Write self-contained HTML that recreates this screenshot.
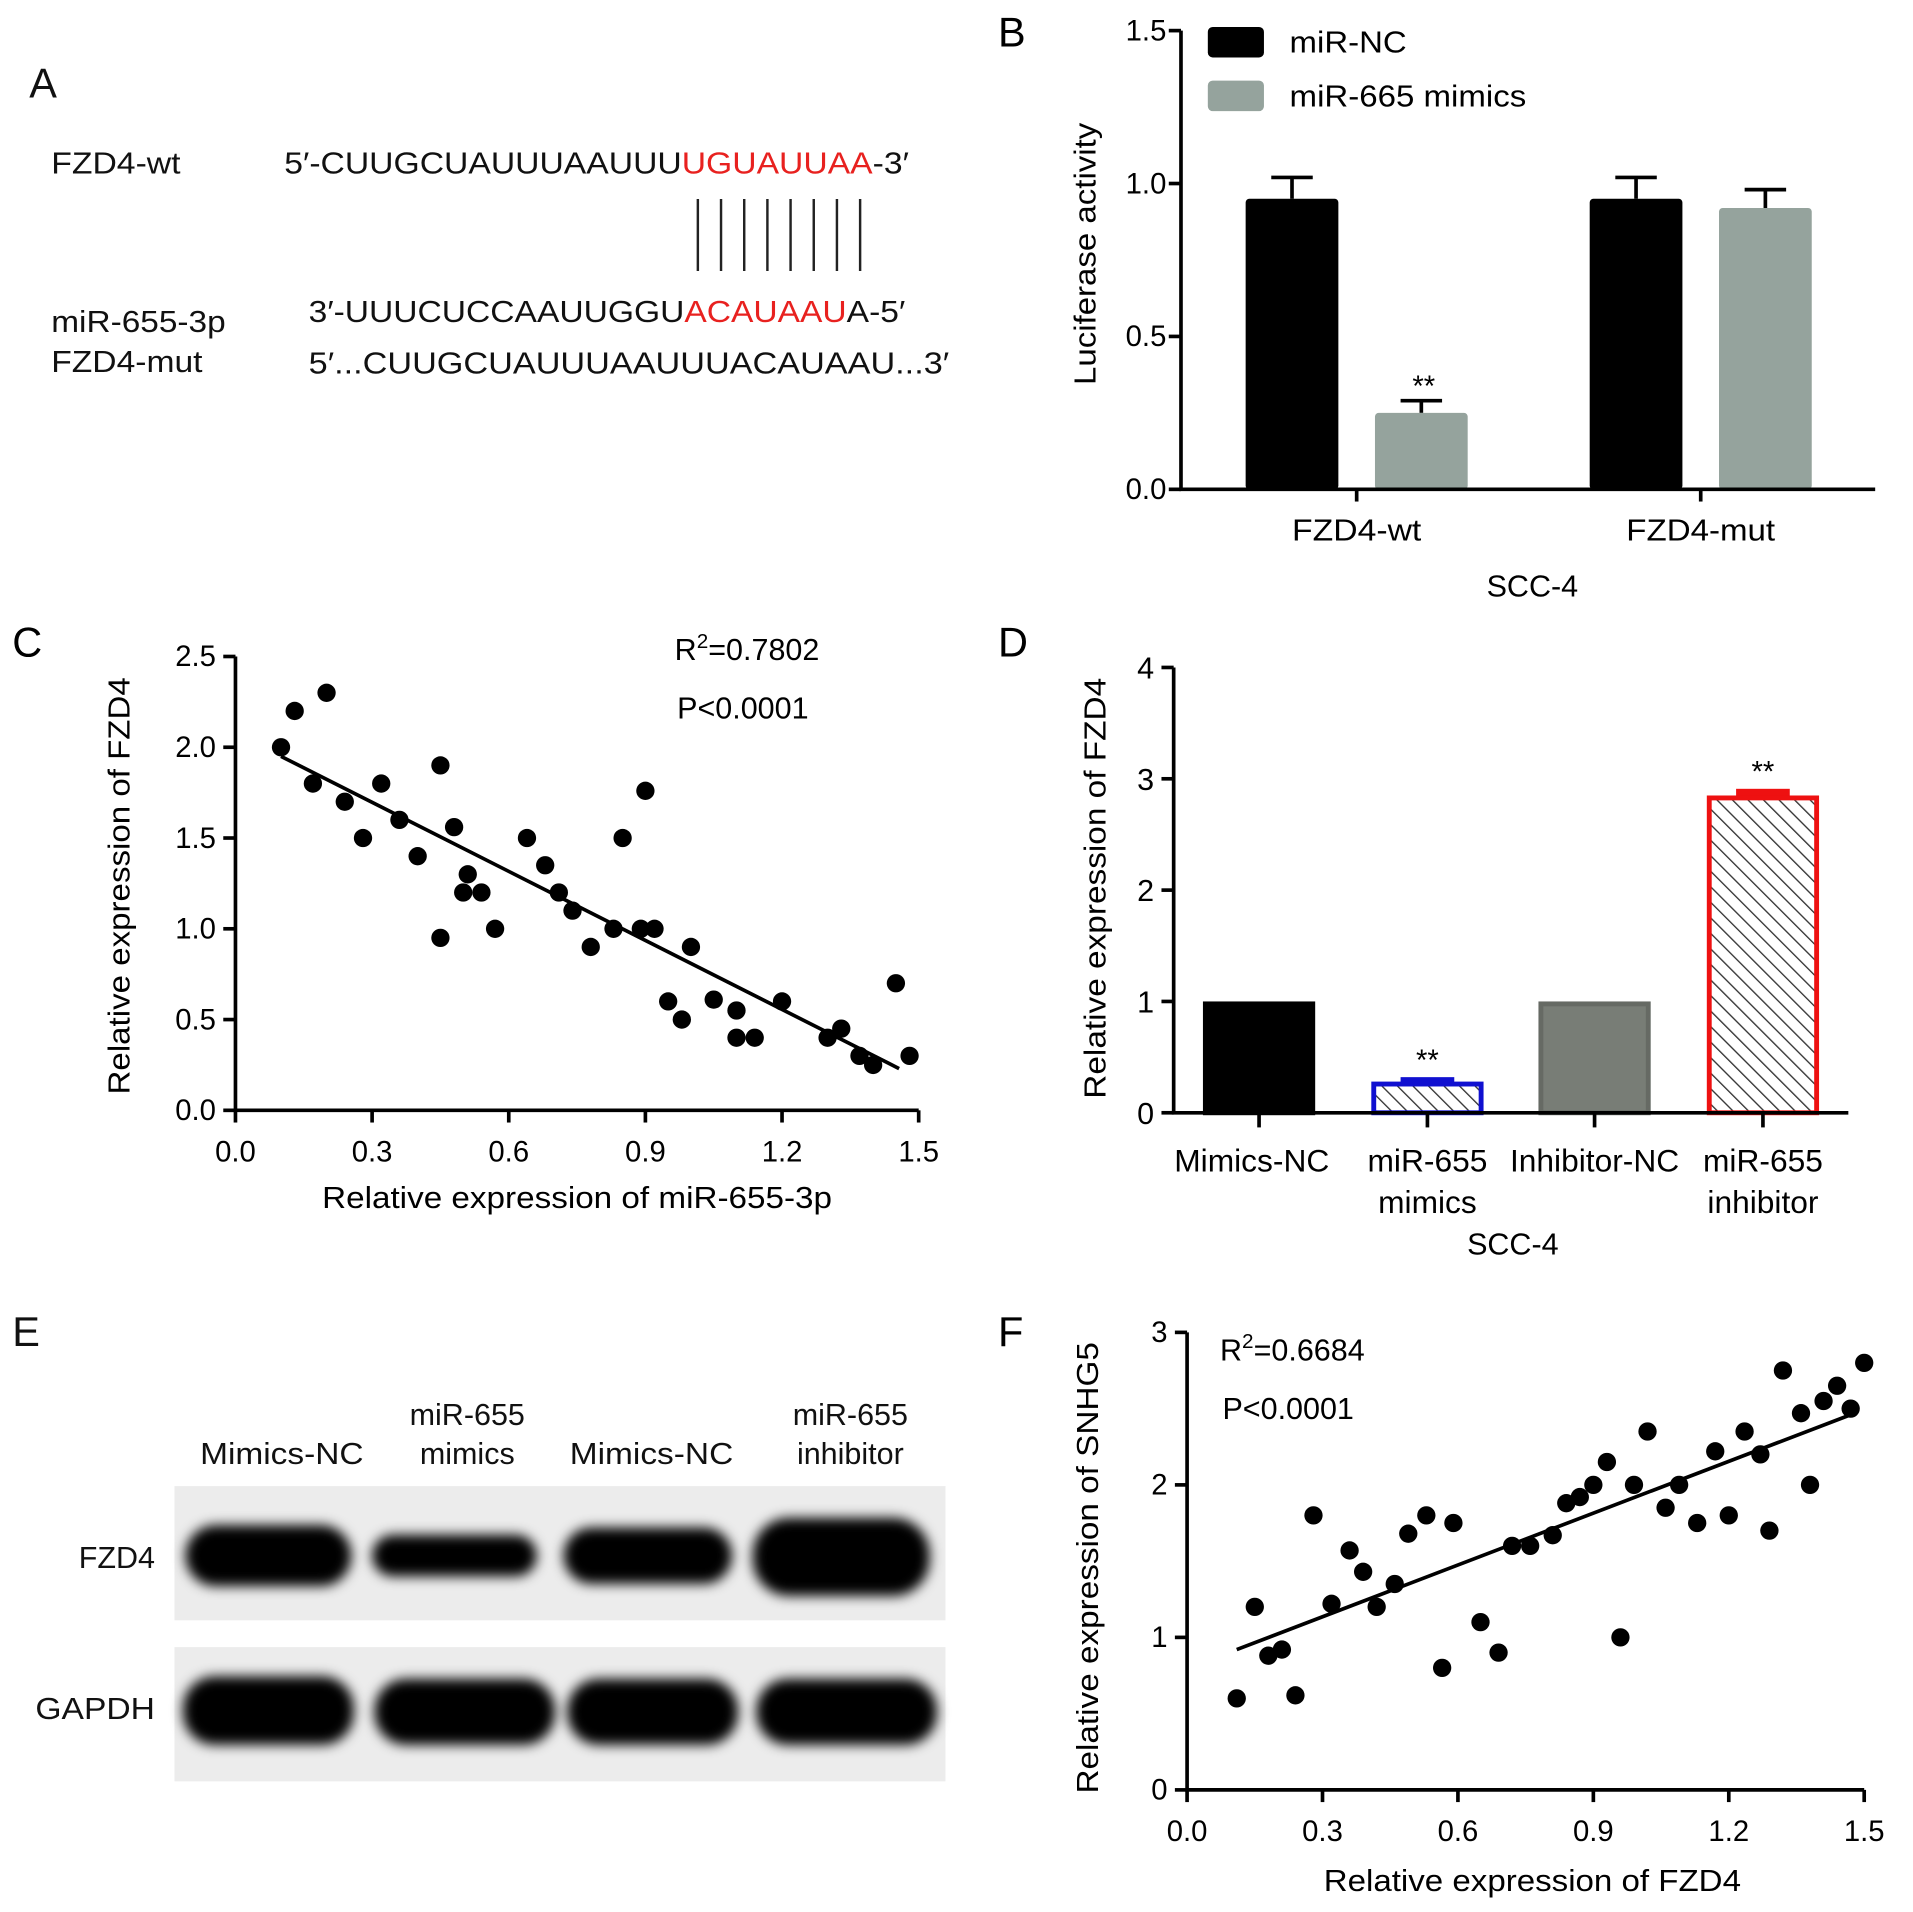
<!DOCTYPE html>
<html><head><meta charset="utf-8">
<style>
html,body{margin:0;padding:0;background:#fff;}
svg{display:block;font-family:"Liberation Sans",Arial,sans-serif;}
</style></head>
<body>
<svg id="fig" width="1913" height="1912" viewBox="0 0 1568 1567" xmlns="http://www.w3.org/2000/svg">
<defs>
<pattern id="hatch" patternUnits="userSpaceOnUse" width="9" height="9" patternTransform="rotate(-45)">
<rect width="9" height="9" fill="#fff"/><line x1="0" y1="0" x2="0" y2="9" stroke="#333" stroke-width="2.2"/>
</pattern>
<filter id="blur"><feGaussianBlur stdDeviation="5"/></filter>
</defs>

<!-- Panel A -->
<g font-size="25" fill="#111">
<text x="24" y="80" font-size="34">A</text>
<text x="42" y="142" textLength="106" lengthAdjust="spacingAndGlyphs">FZD4-wt</text>
<text x="233" y="142" textLength="512" lengthAdjust="spacingAndGlyphs">5′-CUUGCUAUUUAAUUU<tspan fill="#e8211f">UGUAUUAA</tspan>-3′</text>
<g stroke="#222" stroke-width="2">
<line x1="572" y1="163" x2="572" y2="222"/><line x1="591" y1="163" x2="591" y2="222"/><line x1="610" y1="163" x2="610" y2="222"/><line x1="629" y1="163" x2="629" y2="222"/><line x1="648" y1="163" x2="648" y2="222"/><line x1="667" y1="163" x2="667" y2="222"/><line x1="686" y1="163" x2="686" y2="222"/><line x1="705" y1="163" x2="705" y2="222"/>
</g>
<text x="42" y="272" textLength="143" lengthAdjust="spacingAndGlyphs">miR-655-3p</text>
<text x="253" y="264" textLength="489" lengthAdjust="spacingAndGlyphs">3′-UUUCUCCAAUUGGU<tspan fill="#e8211f">ACAUAAU</tspan>A-5′</text>
<text x="42" y="305" textLength="124" lengthAdjust="spacingAndGlyphs">FZD4-mut</text>
<text x="253" y="306" textLength="525" lengthAdjust="spacingAndGlyphs">5′...CUUGCUAUUUAAUUUACAUAAU...3′</text>
</g>

<text x="818" y="38" font-size="34">B</text>
<g id="chartB"></g>
<text x="10" y="538" font-size="34">C</text>
<g id="chartC"></g>
<text x="818" y="538" font-size="34">D</text>
<g id="chartD"></g>

<!-- Panel E -->
<g font-size="25" fill="#111">
<text x="10" y="1103" font-size="34">E</text>
<text x="231" y="1200" text-anchor="middle" textLength="134" lengthAdjust="spacingAndGlyphs">Mimics-NC</text>
<text x="383" y="1168" text-anchor="middle">miR-655</text>
<text x="383" y="1200" text-anchor="middle">mimics</text>
<text x="534" y="1200" text-anchor="middle" textLength="134" lengthAdjust="spacingAndGlyphs">Mimics-NC</text>
<text x="697" y="1168" text-anchor="middle">miR-655</text>
<text x="697" y="1200" text-anchor="middle">inhibitor</text>
<text x="127" y="1285" text-anchor="end">FZD4</text>
<text x="127" y="1409" text-anchor="end" textLength="98" lengthAdjust="spacingAndGlyphs">GAPDH</text>
<rect x="143" y="1218" width="632" height="110" fill="#ececec"/>
<rect x="143" y="1350" width="632" height="110" fill="#ececec"/>
<g filter="url(#blur)" fill="#050505">
<rect x="152" y="1250" width="136" height="50" rx="25"/>
<rect x="305" y="1258" width="135" height="34" rx="17"/>
<rect x="462" y="1252" width="138" height="46" rx="23"/>
<rect x="617" y="1244" width="145" height="64" rx="30"/>
<rect x="150" y="1374" width="140" height="56" rx="26"/>
<rect x="307" y="1376" width="148" height="54" rx="26"/>
<rect x="465" y="1376" width="140" height="54" rx="26"/>
<rect x="620" y="1376" width="148" height="54" rx="26"/>
</g>
</g>

<text x="818" y="1103" font-size="34">F</text>
<g id="chartF"></g>
</svg>

<script>
// ---- Panel B data ----
const bCategories = ["FZD4-wt", "FZD4-mut"];
const bSeriesNames = ["miR-NC", "miR-665 mimics"];
const bNC = [0.95, 0.95];
const bNCErr = [0.07, 0.07];
const bMimics = [0.25, 0.92];
const bMimicsErr = [0.04, 0.06];
const bTicks = ["0.0", "0.5", "1.0", "1.5"];

// ---- Panel C data ----
const cX = [0.10,0.13,0.17,0.20,0.24,0.28,0.32,0.36,0.40,0.45,0.45,0.48,0.50,0.51,0.54,0.57,0.64,0.68,0.71,0.74,0.78,0.83,0.85,0.89,0.90,0.92,0.95,0.98,1.00,1.05,1.10,1.10,1.14,1.20,1.30,1.33,1.37,1.40,1.45,1.48];
const cY = [2.0,2.2,1.8,2.3,1.7,1.5,1.8,1.6,1.4,0.95,1.9,1.56,1.2,1.3,1.2,1.0,1.5,1.35,1.2,1.1,0.9,1.0,1.5,1.0,1.76,1.0,0.6,0.5,0.9,0.61,0.55,0.4,0.4,0.6,0.4,0.45,0.3,0.25,0.7,0.3];
const cFit = [[0.10,1.95],[1.457,0.23]];
const cXTicks = ["0.0","0.3","0.6","0.9","1.2","1.5"];
const cYTicks = ["0.0","0.5","1.0","1.5","2.0","2.5"];

// ---- Panel D data ----
const dCategories = [["Mimics-NC"],["miR-655","mimics"],["Inhibitor-NC"],["miR-655","inhibitor"]];
const dValues = [1.0, 0.28, 1.0, 2.85];
const dErr = [0, 0.04, 0, 0.06];
const dYTicks = ["0","1","2","3","4"];

// ---- Panel F data ----
const fX = [0.11,0.15,0.18,0.21,0.24,0.28,0.32,0.36,0.39,0.42,0.46,0.49,0.53,0.565,0.59,0.65,0.69,0.72,0.76,0.81,0.84,0.87,0.90,0.93,0.96,0.99,1.02,1.06,1.09,1.13,1.17,1.20,1.235,1.27,1.29,1.32,1.36,1.38,1.41,1.44,1.47,1.50];
const fY = [0.6,1.2,0.88,0.92,0.62,1.8,1.22,1.57,1.43,1.2,1.35,1.68,1.8,0.8,1.75,1.1,0.9,1.6,1.6,1.67,1.88,1.92,2.0,2.15,1.0,2.0,2.35,1.85,2.0,1.75,2.22,1.8,2.35,2.2,1.7,2.75,2.47,2.0,2.55,2.65,2.5,2.8];
const fFit = [[0.11,0.92],[1.47,2.46]];
const fXTicks = ["0.0","0.3","0.6","0.9","1.2","1.5"];
const fYTicks = ["0","1","2","3"];

const NS = "http://www.w3.org/2000/svg";
function mk(parent, tag, attrs, text) {
  const el = document.createElementNS(NS, tag);
  for (const k in attrs) el.setAttribute(k, attrs[k]);
  if (text !== undefined) el.textContent = text;
  parent.appendChild(el);
  return el;
}

// ================= Panel B =================
(function(){
  const g = document.getElementById('chartB');
  const x0 = 968, x1 = 1537, yb = 401, yt = 25, vmax = 1.5;
  const y = v => yb - (v / vmax) * (yb - yt);
  const groupCenters = [1112, 1394], bw = 76, off = 53;
  const colors = ["#000000", "#95a39d"];
  const series = [bNC, bMimics], errs = [bNCErr, bMimicsErr];
  for (let s = 0; s < 2; s++) {
    for (let i = 0; i < bCategories.length; i++) {
      const cx = groupCenters[i] + (s === 0 ? -off : off);
      const v = series[s][i], e = errs[s][i];
      const eb = mk(g, 'path', {d:`M${cx} ${y(v)} V${y(v+e)} M${cx-17} ${y(v+e)} H${cx+17}`, stroke:"#000", 'stroke-width':3, fill:'none'});
      
      
      const r = mk(g, 'rect', {x:cx-bw/2, y:y(v), width:bw, height:yb-y(v), fill:colors[s], rx:3});
      
      
    }
  }
  const st = mk(g, 'text', {x:1167, y:y(bMimics[0]+bMimicsErr[0])-4, 'font-size':24, 'text-anchor':'middle'}, '**');
  
  
  const ax = mk(g, 'path', {d:`M${x0} ${yt} V${yb} H${x1}`, stroke:'#000', 'stroke-width':3, fill:'none'});
  
  
  bTicks.forEach((t, i) => {
    const v = parseFloat(t);
    mk(g, 'line', {x1:x0-10, x2:x0, y1:y(v), y2:y(v), stroke:'#000', 'stroke-width':3});
    const tl = mk(g, 'text', {x:x0-12, y:y(v)+8, 'text-anchor':'end', 'font-size':24}, t);
    
    
  });
  bCategories.forEach((c, i) => {
    mk(g, 'line', {x1:groupCenters[i], x2:groupCenters[i], y1:yb, y2:yb+10, stroke:'#000', 'stroke-width':3});
    const tl = mk(g, 'text', {x:groupCenters[i], y:443, 'text-anchor':'middle', 'font-size':25, textLength: i===0?106:122, lengthAdjust:'spacingAndGlyphs'}, c);
    
    
  });
  const xt = mk(g, 'text', {x:1256, y:489, 'text-anchor':'middle', 'font-size':25}, 'SCC-4');
  
  
  const yt2 = mk(g, 'text', {x:0, y:0, 'text-anchor':'middle', 'font-size':25, textLength:215, lengthAdjust:'spacingAndGlyphs', transform:'translate(898 208) rotate(-90)'}, 'Luciferase activity');
  
  
  bSeriesNames.forEach((n, s) => {
    const ly = 22 + s * 44;
    const lr = mk(g, 'rect', {x:990, y:ly, width:46, height:25, rx:4, fill:colors[s]});
    
    
    const lt = mk(g, 'text', {x:1057, y:ly+21, 'font-size':25, textLength: s===0?96:194, lengthAdjust:'spacingAndGlyphs'}, n);
    
    
  });
})();

// ================= Scatter helper =================
function scatter(gid, xs, ys, fit, xTicks, yTicks, xr, yr, box, labels) {
  const g = document.getElementById(gid);
  const [xl, xh, yb, yt] = box;
  const X = v => xl + (v - xr[0]) / (xr[1] - xr[0]) * (xh - xl);
  const Y = v => yb - (v - yr[0]) / (yr[1] - yr[0]) * (yb - yt);
  const ax = mk(g, 'path', {d:`M${xl} ${yt} V${yb} H${xh}`, stroke:'#000', 'stroke-width':3, fill:'none'});
  
  
  xTicks.forEach(t => {
    const v = parseFloat(t);
    mk(g, 'line', {x1:X(v), x2:X(v), y1:yb, y2:yb+10, stroke:'#000', 'stroke-width':3});
    const tl = mk(g, 'text', {x:X(v), y:yb+42, 'text-anchor':'middle', 'font-size':24}, t);
    
    
  });
  yTicks.forEach(t => {
    const v = parseFloat(t);
    mk(g, 'line', {x1:xl-10, x2:xl, y1:Y(v), y2:Y(v), stroke:'#000', 'stroke-width':3});
    const tl = mk(g, 'text', {x:xl-16, y:Y(v)+8, 'text-anchor':'end', 'font-size':24}, t);
    
    
  });
  const fl = mk(g, 'line', {x1:X(fit[0][0]), y1:Y(fit[0][1]), x2:X(fit[1][0]), y2:Y(fit[1][1]), stroke:'#000', 'stroke-width':3});
  
  
  xs.forEach((v, i) => {
    const c = mk(g, 'circle', {cx:X(v), cy:Y(ys[i]), r:7.5, fill:'#000'});
    
    
  });
  const xt = mk(g, 'text', {x:labels.xtx, y:labels.xty, 'text-anchor':'middle', 'font-size':25, textLength:labels.xlen, lengthAdjust:'spacingAndGlyphs'}, labels.xtitle);
  
  
  const ytl = mk(g, 'text', {x:0, y:0, 'text-anchor':'middle', 'font-size':25, textLength:labels.ylen, lengthAdjust:'spacingAndGlyphs', transform:`translate(${labels.ytx} ${labels.yty}) rotate(-90)`}, labels.ytitle);
  
  
  const r2 = mk(g, 'text', {x:labels.rx, y:labels.ry, 'font-size':25});
  
  
  r2.innerHTML = 'R<tspan font-size="17" dy="-10">2</tspan><tspan dy="10">=' + labels.r2 + '</tspan>';
  const pv = mk(g, 'text', {x:labels.rx + 2, y:labels.ry + 48, 'font-size':25}, 'P<0.0001');
  
  
}

scatter('chartC', cX, cY, cFit, cXTicks, cYTicks, [0,1.5], [0,2.5], [193, 753, 910, 538],
  {xtitle:'Relative expression of miR-655-3p', xtx:473, xty:990, xlen:418, ytitle:'Relative expression of FZD4', ytx:106, yty:726, ylen:342, rx:553, ry:541, r2:'0.7802'});
scatter('chartF', fX, fY, fFit, fXTicks, fYTicks, [0,1.5], [0,3], [973, 1528, 1467, 1092],
  {xtitle:'Relative expression of FZD4', xtx:1256, xty:1550, xlen:342, ytitle:'Relative expression of SNHG5', ytx:900, yty:1285, ylen:370, rx:1000, ry:1115, r2:'0.6684'});

// ================= Panel D =================
(function(){
  const g = document.getElementById('chartD');
  const x0 = 962, x1 = 1515, yb = 912, yt = 547, vmax = 4;
  const y = v => yb - (v / vmax) * (yb - yt);
  const centers = [1032, 1170, 1307, 1445], bw = 92;
  const fills = ['#000', 'url(#hatch)', '#787d76', 'url(#hatch)'];
  const strokes = ['#000', '#1010d0', '#666a64', '#ee1111'];
  dValues.forEach((v, i) => {
    const cx = centers[i];
    if (dErr[i] > 0) {
      const eb = mk(g, 'rect', {x:cx-22, y:y(v+dErr[i]), width:44, height:y(v)-y(v+dErr[i])+2, fill:strokes[i]});
      
      
    }
    const r = mk(g, 'rect', {x:cx-bw/2+2, y:y(v)+2, width:bw-4, height:yb-y(v)-2, fill:fills[i], stroke:strokes[i], 'stroke-width':4});
    
    
    if (dErr[i] > 0) {
      const st = mk(g, 'text', {x:cx, y:y(v+dErr[i])-6, 'text-anchor':'middle', 'font-size':24}, '**');
      
      
    }
    mk(g, 'line', {x1:cx, x2:cx, y1:yb, y2:yb+12, stroke:'#000', 'stroke-width':3});
    dCategories[i].forEach((line, k) => {
      const tl = mk(g, 'text', {x:cx - (i===0?6:0), y:960 + k*34, 'text-anchor':'middle', 'font-size':26}, line);
      
      
    });
  });
  const ax = mk(g, 'path', {d:`M${x0} ${yt} V${yb} H${x1}`, stroke:'#000', 'stroke-width':3, fill:'none'});
  
  
  dYTicks.forEach(t => {
    const v = parseFloat(t);
    mk(g, 'line', {x1:x0-10, x2:x0, y1:y(v), y2:y(v), stroke:'#000', 'stroke-width':3});
    const tl = mk(g, 'text', {x:x0-16, y:y(v)+9, 'text-anchor':'end', 'font-size':25}, t);
    
    
  });
  const xt = mk(g, 'text', {x:1240, y:1028, 'text-anchor':'middle', 'font-size':25}, 'SCC-4');
  
  
  const ytl = mk(g, 'text', {x:0, y:0, 'text-anchor':'middle', 'font-size':25, textLength:345, lengthAdjust:'spacingAndGlyphs', transform:'translate(906 728) rotate(-90)'}, 'Relative expression of FZD4');
  
  
})();
</script>
</body></html>
